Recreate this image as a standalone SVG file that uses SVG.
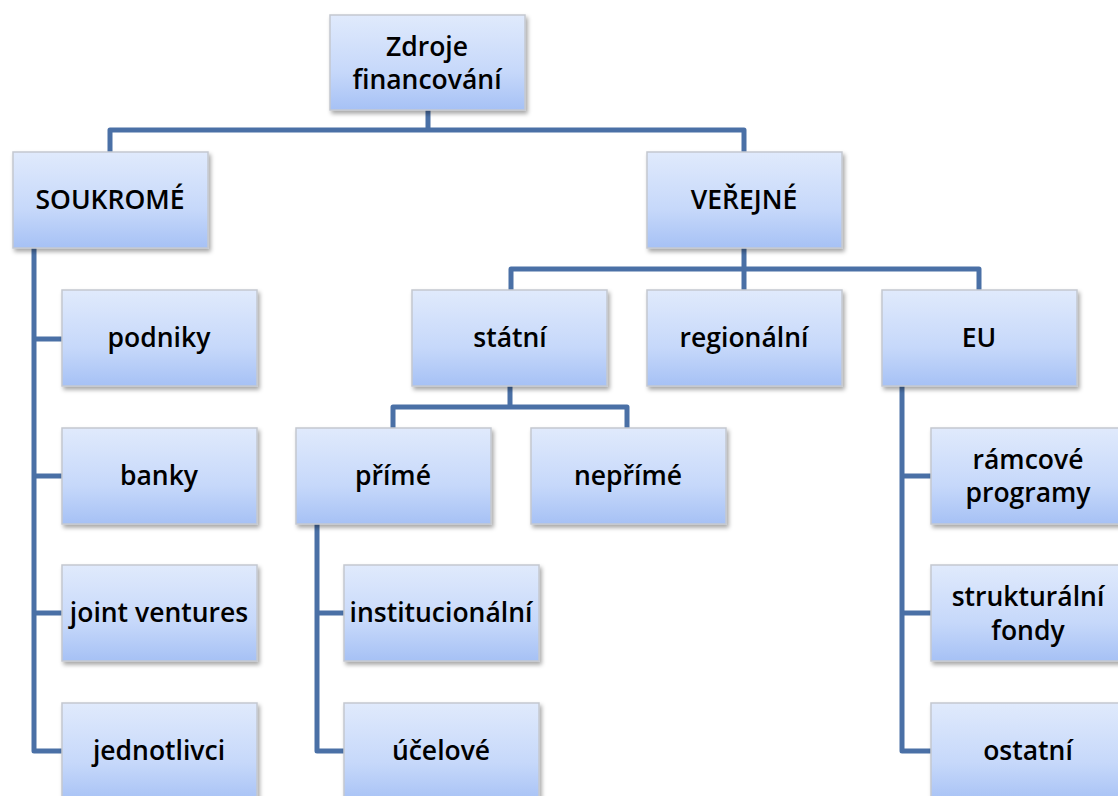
<svg xmlns="http://www.w3.org/2000/svg" width="1118" height="796" viewBox="0 0 1118 796">
<defs>
<linearGradient id="g" x1="0" y1="0" x2="0" y2="1">
<stop offset="0" stop-color="#e0eafc"/>
<stop offset="0.6" stop-color="#c6d8fa"/>
<stop offset="1" stop-color="#a6c1f5"/>
</linearGradient>
<filter id="sh" x="-10%" y="-10%" width="125%" height="130%">
<feDropShadow dx="2" dy="3" stdDeviation="2" flood-color="#000" flood-opacity="0.35"/>
</filter>
</defs>
<style>
.b{fill:url(#g);stroke:#c4c8d0;stroke-width:1.5;filter:url(#sh)}
.t{font-family:"Open Sans","Liberation Sans",sans-serif;font-size:26.5px;font-weight:600;fill:#000;text-anchor:middle}
.c{fill:none;stroke:#4a70a6;stroke-width:5;stroke-linejoin:round;stroke-linecap:butt}
</style>
<rect width="1118" height="796" fill="#fff"/>
<g id="connectors">
<path class="c" d="M428 110V130M110 152V130H744V152"/>
<path class="c" d="M744 248V269M511 290V269H979V290M744 269V290"/>
<path class="c" d="M34 248V751H62M34 339H62M34 476H62M34 613H62"/>
<path class="c" d="M510 386V407M393 428V407H627V428"/>
<path class="c" d="M317 524V751H344M317 613H344"/>
<path class="c" d="M902 386V751H931M902 476H931M902 613H931"/>
</g>
<g id="root"><rect class="b" x="330" y="15" width="195" height="95"/><text class="t" x="427" y="56">Zdroje</text><text class="t" x="427" y="89">financování</text></g>
<g id="soukrome"><rect class="b" x="13" y="152" width="195" height="96"/><text class="t" x="110" y="209">SOUKROMÉ</text></g>
<g id="verejne"><rect class="b" x="647" y="152" width="195" height="96"/><text class="t" x="744" y="209">VEŘEJNÉ</text></g>
<g id="podniky"><rect class="b" x="62" y="290" width="195" height="96"/><text class="t" x="159" y="347">podniky</text></g>
<g id="banky"><rect class="b" x="62" y="428" width="195" height="96"/><text class="t" x="159" y="485">banky</text></g>
<g id="joint"><rect class="b" x="62" y="565" width="195" height="96"/><text class="t" x="159" y="622">joint ventures</text></g>
<g id="jednotlivci"><rect class="b" x="62" y="703" width="195" height="100"/><text class="t" x="159" y="760">jednotlivci</text></g>
<g id="statni"><rect class="b" x="412" y="290" width="195" height="96"/><text class="t" x="510" y="347">státní</text></g>
<g id="regionalni"><rect class="b" x="647" y="290" width="195" height="96"/><text class="t" x="744" y="347">regionální</text></g>
<g id="eu"><rect class="b" x="882" y="290" width="195" height="96"/><text class="t" x="979" y="347">EU</text></g>
<g id="prime"><rect class="b" x="296" y="428" width="195" height="96"/><text class="t" x="393" y="485">přímé</text></g>
<g id="neprime"><rect class="b" x="531" y="428" width="195" height="96"/><text class="t" x="628" y="485">nepřímé</text></g>
<g id="institucionalni"><rect class="b" x="344" y="565" width="195" height="96"/><text class="t" x="441" y="622">institucionální</text></g>
<g id="ucelove"><rect class="b" x="344" y="703" width="195" height="100"/><text class="t" x="441" y="760">účelové</text></g>
<g id="ramcove"><rect class="b" x="931" y="428" width="195" height="96"/><text class="t" x="1028" y="469">rámcové</text><text class="t" x="1028" y="502">programy</text></g>
<g id="strukturalni"><rect class="b" x="931" y="565" width="195" height="96"/><text class="t" x="1028" y="606">strukturální</text><text class="t" x="1028" y="640">fondy</text></g>
<g id="ostatni"><rect class="b" x="931" y="703" width="195" height="100"/><text class="t" x="1028" y="760">ostatní</text></g>
</svg>
